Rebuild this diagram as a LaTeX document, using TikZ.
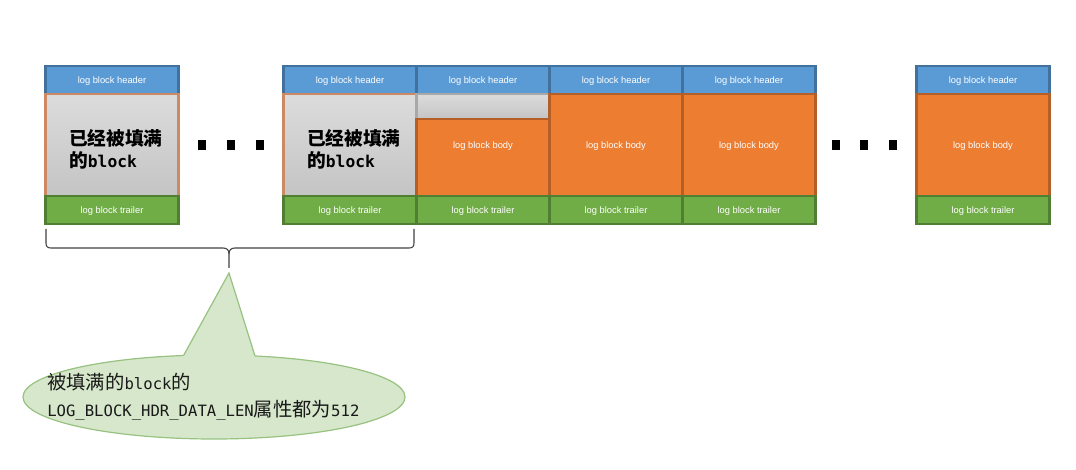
\documentclass[tikz,border=0pt]{standalone}
\usepackage{fontspec}
\setmainfont{Liberation Sans}
\newfontfamily\cjk{Noto Sans CJK SC}
\newfontfamily\monof{DejaVu Sans Mono}
\usetikzlibrary{shapes.geometric,calc}
\definecolor{hdrfill}{HTML}{5B9BD5}
\definecolor{hdrline}{HTML}{41719C}
\definecolor{bodyfill}{HTML}{ED7D31}
\definecolor{bodyline}{HTML}{B35F27}
\definecolor{trlfill}{HTML}{70AD47}
\definecolor{trlline}{HTML}{507E32}
\definecolor{grayline}{HTML}{A8A8A8}
\definecolor{graytop}{HTML}{DCDCDC}
\definecolor{graybot}{HTML}{C4C4C4}
\definecolor{fullline}{HTML}{CD8A62}
\definecolor{calfill}{HTML}{D6E7CB}
\definecolor{calline}{HTML}{97C27F}
\definecolor{braceline}{HTML}{404040}
\begin{document}
\begin{tikzpicture}[x=0.75pt,y=-0.75pt,
  cell/.style={draw, line width=1.6pt, inner sep=0pt, outer sep=0pt,
    minimum width=99.75pt, text=white, text height=5pt, text depth=0pt,
    font=\fontsize{7}{8}\selectfont},
  hdr/.style={cell, fill=hdrfill, draw=hdrline, minimum height=21pt},
  bdy/.style={cell, fill=bodyfill, draw=bodyline, minimum height=76.5pt},
  trl/.style={cell, fill=trlfill, draw=trlline, minimum height=21pt},
  fullbdy/.style={cell, top color=graytop, bottom color=graybot, draw=fullline, minimum height=76.5pt},
  graystrip/.style={cell, top color=graytop, bottom color=graybot, draw=grayline, minimum height=18.75pt},
  halfbdy/.style={cell, fill=bodyfill, draw=bodyline, minimum height=57.75pt},
  celltext/.style={text=white, inner sep=0pt, text height=5pt, text depth=0pt,
    font=\fontsize{7}{8}\selectfont},
  fulltext/.style={anchor=west, align=left, text=black, inner sep=0pt,
    font=\fontsize{14}{16.5}\selectfont},
  dot/.style={fill=black, inner sep=0pt, minimum width=6pt, minimum height=7.5pt},
  bracestyle/.style={draw=braceline, line width=0.8pt},
  callout/.style={ellipse, fill=calfill, draw=calline, line width=0.9pt,
    minimum width=286.5pt, minimum height=63pt, inner sep=0pt},
]
\useasboundingbox (0,0) rectangle (1076,470);

% headers
\node[hdr] (h1) at (112,80) {log block header};
\node[hdr] (hA) at (350,80) {log block header};
\node[hdr] (hB) at (483,80) {log block header};
\node[hdr] (hC) at (616,80) {log block header};
\node[hdr] (hD) at (749,80) {log block header};
\node[hdr] (hE) at (983,80) {log block header};

% bodies
\node[fullbdy] (b1) at (112,145) {};
\node[fullbdy] (bA) at (350,145) {};
\node[graystrip] (bBg) at (483,106.5) {};
\node[halfbdy] (bB) at (483,157.5) {};
\node[celltext] (bBt) at (483,145) {log block body};
\node[bdy] (bC) at (616,145) {log block body};
\node[bdy] (bD) at (749,145) {log block body};
\node[bdy] (bE) at (983,145) {log block body};

% trailers
\node[trl] (t1) at (112,210) {log block trailer};
\node[trl] (tA) at (350,210) {log block trailer};
\node[trl] (tB) at (483,210) {log block trailer};
\node[trl] (tC) at (616,210) {log block trailer};
\node[trl] (tD) at (749,210) {log block trailer};
\node[trl] (tE) at (983,210) {log block trailer};

% texts in full blocks
\node[fulltext] (f1) at (69,149) {{\cjk\bfseries 已经被填满}\\{\cjk\bfseries 的}{\monof\bfseries\fontsize{12.2}{16.5}\selectfont block}};
\node[fulltext] (fA) at (307,149) {{\cjk\bfseries 已经被填满}\\{\cjk\bfseries 的}{\monof\bfseries\fontsize{12.2}{16.5}\selectfont block}};

% dots
\node[dot] (d1) at (202,145) {};
\node[dot] (d2) at (231,145) {};
\node[dot] (d3) at (260,145) {};
\node[dot] (d4) at (836,145) {};
\node[dot] (d5) at (864,145) {};
\node[dot] (d6) at (893,145) {};

% brace
\coordinate (bl) at (46,229);
\coordinate (br) at (414,229);
\coordinate (btip) at (229,268);
\draw[bracestyle] (bl) -- (46,243) .. controls (46,246.5) and (47.5,248) .. (51,248)
  -- (223,248) .. controls (227,248) and (229,250) .. (229,254) -- (btip);
\draw[bracestyle] (br) -- (414,243) .. controls (414,246.5) and (412.5,248) .. (409,248)
  -- (235,248) .. controls (231,248) and (229,250) .. (229,254);

% callout
\node[callout] (cal) at (214,397) {};
\coordinate (ctip) at (229,273);
\coordinate (cbl) at (183.5,355.6);
\coordinate (cbr) at (255,356);
\fill[calfill] (ctip) -- ($(ctip)!1.06!(cbl)$) -- ($(ctip)!1.06!(cbr)$) -- cycle;
\draw[calline, line width=0.9pt, line join=miter] (cbl) -- (ctip) -- (cbr);
\node[anchor=west, align=left, inner sep=0pt, text=black!90,
  font=\fontsize{11.7}{20}\selectfont] (ctext) at (47,396.5)
  {{\cjk\fontsize{14.5}{20}\selectfont 被填满的}{\monof block}{\cjk\fontsize{14.5}{20}\selectfont 的}\\
   {\monof LOG\_BLOCK\_HDR\_DATA\_LEN}{\cjk\fontsize{14.5}{20}\selectfont 属性都为}{\monof 512}};
\end{tikzpicture}
\end{document}
